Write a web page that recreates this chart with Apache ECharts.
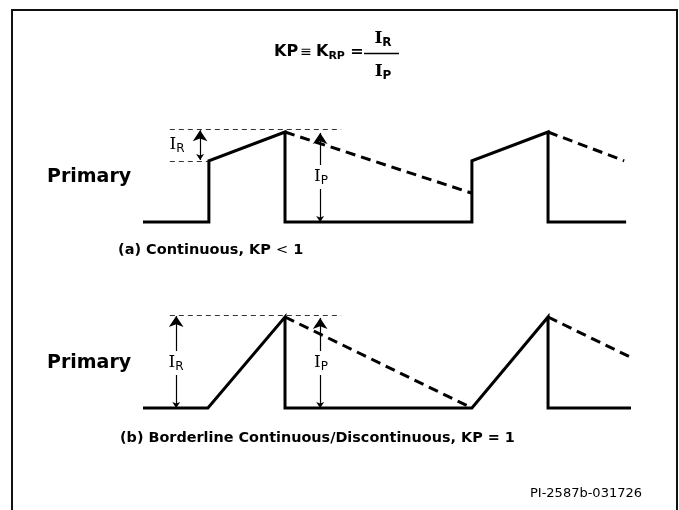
<!DOCTYPE html>
<html>
<head>
<meta charset="utf-8">
<script src="https://cdn.jsdelivr.net/npm/echarts@6/dist/echarts.min.js"></script>
<style>
  html, body { margin: 0; padding: 0; background: #fff; }
  #chart { width: 679px; height: 510px; }
</style>
</head>
<body>
<div id="chart"></div>
<script>
// time axis runs 0..100 across the panel, current is in units of Ip
var primaryA = [[0, 0], [13.5, 0], [13.5, 0.68], [29.1, 1], [29.1, 0], [67.4, 0], [67.4, 0.68], [83, 1], [83, 0], [99, 0]]
var decayA = [[[29.1, 1], [67.4, 0.32]], [[83, 1], [98.6, 0.68]]]
var refA = [[[5.5, 1.03], [40.6, 1.03]], [[5.5, 0.68], [13.3, 0.68]]]
var arrowsA = [[[11.7, 0.69], [11.7, 1.02]], [[36.3, 0], [36.3, 0.99]]]

var primaryB = [[0, 0], [13.3, 0], [29.1, 1], [29.1, 0], [67.4, 0], [83, 1], [83, 0], [100, 0]]
var decayB = [[[29.1, 1], [67.4, 0]], [[83, 1], [100.2, 0.55]]]
var refB = [[[5.5, 1.02], [40.6, 1.02]]]
var arrowsB = [[[6.8, 0], [6.8, 1.01]], [[36.3, 0], [36.3, 0.99]]]

var chart = echarts.init(document.getElementById('chart'))
var F = '"DejaVu Sans", Verdana, sans-serif'
var FS = '"DejaVu Serif", serif'

function wave (data, idx) {
  return {
    type: 'line', xAxisIndex: idx, yAxisIndex: idx, data: data,
    showSymbol: false, symbol: 'none', clip: false, animation: false, z: 5,
    lineStyle: { color: '#000', width: 3, cap: 'butt', join: 'miter' }
  }
}
function segs (list, idx, style, sym) {
  return {
    type: 'lines', coordinateSystem: 'cartesian2d', xAxisIndex: idx, yAxisIndex: idx,
    data: list.map(function (c) { return { coords: c } }),
    symbol: sym || 'none', symbolSize: [6, 11], clip: false, animation: false,
    lineStyle: style
  }
}
var thickDash = { color: '#000', width: 3, type: [10, 6], opacity: 1 }
var thinDash = { color: '#333', width: 1, type: [5, 4], opacity: 1 }
var arrowStyle = { color: '#000', width: 1.2, opacity: 1 }

function sub (x, y, main, s, bold, bg) {
  return {
    type: 'text', x: x, y: y, z: 100,
    style: {
      text: '{a|' + main + '}{b|' + s + '}',
      align: 'center', verticalAlign: 'middle',
      backgroundColor: bg ? '#fff' : null, padding: bg ? [2, 1] : 0,
      rich: {
        a: { font: (bold ? 'bold ' : '') + '17px ' + FS, fill: '#000', lineHeight: 20, verticalAlign: 'middle' },
        b: { font: (bold ? 'bold ' : '') + '12px ' + F, fill: '#000', padding: [8, 0, 0, 0], lineHeight: 20, verticalAlign: 'middle' }
      }
    }
  }
}
function txt (x, y, s, font, align) {
  return { type: 'text', x: x, y: y, z: 100, style: { text: s, font: font, fill: '#000', align: align || 'left', verticalAlign: 'middle' } }
}

chart.setOption({
  backgroundColor: '#fff',
  animation: false,
  grid: [
    { left: 143, width: 488, top: 87, height: 135 },
    { left: 143, width: 488, top: 271.5, height: 136.5 }
  ],
  xAxis: [
    { type: 'value', gridIndex: 0, min: 0, max: 100, show: false },
    { type: 'value', gridIndex: 1, min: 0, max: 100, show: false }
  ],
  yAxis: [
    { type: 'value', gridIndex: 0, min: 0, max: 1.5, show: false },
    { type: 'value', gridIndex: 1, min: 0, max: 1.5, show: false }
  ],
  series: [
    wave(primaryA, 0),
    segs(decayA, 0, thickDash),
    segs(refA, 0, thinDash),
    segs(arrowsA, 0, arrowStyle, ['arrow', 'arrow']),
    wave(primaryB, 1),
    segs(decayB, 1, thickDash),
    segs(refB, 1, thinDash),
    segs(arrowsB, 1, arrowStyle, ['arrow', 'arrow'])
  ],
  graphic: [
    { type: 'polyline', z: 100, shape: { points: [[12, 510], [12, 10], [677, 10], [677, 510]] }, style: { stroke: '#111', lineWidth: 2, fill: null } },
    // formula
    txt(274, 52, 'KP', 'bold 16px ' + F),
    txt(306, 52, '≡', '14px ' + F, 'center'),
    { type: 'text', x: 316, y: 52, z: 100, style: { text: '{k|K}{s|RP}', align: 'left', verticalAlign: 'middle', rich: {
      k: { font: 'bold 16px ' + F, fill: '#000', lineHeight: 20, verticalAlign: 'middle' },
      s: { font: 'bold 11px ' + F, fill: '#000', padding: [8, 0, 0, 0], lineHeight: 20, verticalAlign: 'middle' } } } },
    txt(357, 52, '=', 'bold 16px ' + F, 'center'),
    { type: 'line', z: 100, shape: { x1: 364, y1: 53.5, x2: 399, y2: 53.5 }, style: { stroke: '#000', lineWidth: 1.5 } },
    sub(383, 39, 'I', 'R', true),
    sub(383, 72, 'I', 'P', true),
    // panel a
    txt(47, 177, 'Primary', 'bold 19px ' + F),
    sub(177, 145, 'I', 'R', false),
    sub(321, 177, 'I', 'P', false, true),
    { type: 'text', x: 118, y: 250, z: 100, style: { text: '{b|(a) Continuous, KP }{r|<}{b| 1}', verticalAlign: 'middle', rich: {
      b: { font: 'bold 14.5px ' + F, fill: '#000' }, r: { font: '14.5px ' + F, fill: '#000' } } } },
    // panel b
    txt(47, 363, 'Primary', 'bold 19px ' + F),
    sub(176, 363, 'I', 'R', false, true),
    sub(321, 363, 'I', 'P', false, true),
    txt(120, 438, '(b) Borderline Continuous/Discontinuous, KP = 1', 'bold 14.4px ' + F),
    txt(642, 494, 'PI-2587b-031726', '13px ' + F, 'right')
  ]
})
</script>
</body>
</html>
